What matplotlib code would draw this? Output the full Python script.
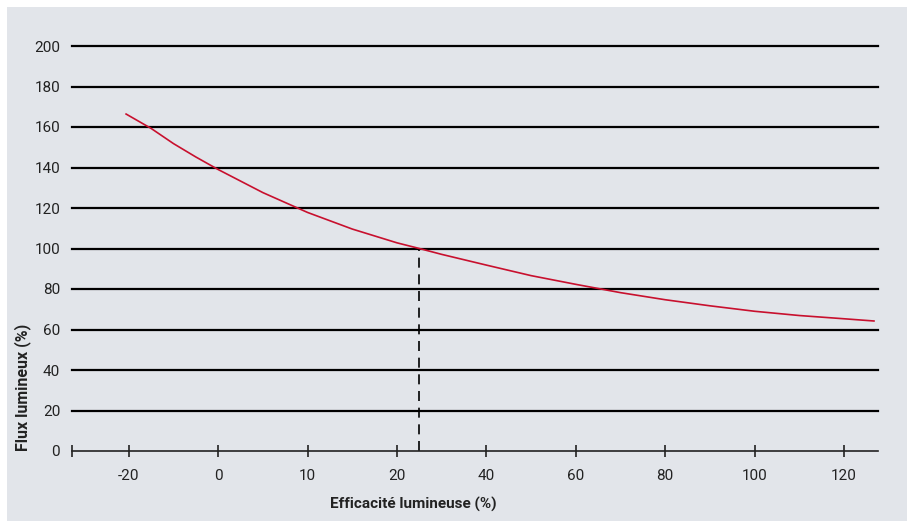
import numpy as np
import matplotlib
matplotlib.use("Agg")
import matplotlib.pyplot as plt
from matplotlib.patches import Rectangle

# ---- data ----
x_ticks = [-20, 0, 10, 20, 40, 60, 80, 100, 120]
x_tick_labels = ["-20", "0", "10", "20", "40", "60", "80", "100", "120"]
y_ticks = [0, 20, 40, 60, 80, 100, 120, 140, 160, 180, 200]

curve_x = [-20.6, -15, -10, -5, 0, 5, 10, 15, 20, 25, 30, 40, 50, 60,
           70, 80, 90, 100, 110, 120, 126.7]
curve_y = [166.4, 159.3, 151.8, 145.2, 139.0, 127.6, 117.8, 109.6, 102.8, 100.0,
           97.1, 91.8, 86.6, 82.3, 78.2, 74.7, 71.7, 69.0, 66.9, 65.3, 64.2]

ref_x = 25
ref_y = 100

x_label = "Efficacité lumineuse (%)"
y_label = "Flux lumineux (%)"

# ---- piecewise-linear x scale (equal spacing per labelled tick) ----
ext_vals = np.array([-60.0] + x_ticks + [200.0])
ext_pos = np.array([-2.0] + list(range(len(x_ticks))) + [12.0])

def fwd(v):
    return np.interp(v, ext_vals, ext_pos)

def inv(p):
    return np.interp(p, ext_pos, ext_vals)

plt.rcParams['font.family'] = ['Roboto', 'DejaVu Sans']

W, H = 912, 522
fig = plt.figure(figsize=(W / 100, H / 100), dpi=100)
fig.patch.set_facecolor('white')
bg = Rectangle((7 / W, 1 - 521 / H), 900 / W, 514 / H,
               transform=fig.transFigure, facecolor='#e2e5ea',
               edgecolor='none', zorder=-10)
fig.add_artist(bg)

ax = fig.add_axes([72 / W, 1 - 451 / H, (878 - 72) / W, (451 - 46) / H])
ax.set_zorder(5)
ax.set_facecolor('none')
ax.set_xscale('function', functions=(fwd, inv))
ax.set_xlim(inv(-0.635), inv(8.38))
ax.set_ylim(0, 200)

for s in ['top', 'right', 'left']:
    ax.spines[s].set_visible(False)
ax.spines['bottom'].set_color('#222222')
ax.spines['bottom'].set_linewidth(1.2)

# grid lines
for yv in y_ticks[1:]:
    ax.axhline(yv, color='black', lw=1.6, zorder=1, clip_on=False)

ax.set_yticks(y_ticks)
ax.set_yticklabels([str(v) for v in y_ticks])
ax.tick_params(axis='y', length=0, pad=8.5, labelsize=11, labelcolor='#222222')

xt = [ax.get_xlim()[0]] + x_ticks
ax.set_xticks(xt)
ax.set_xticklabels([""] + x_tick_labels)
ax.tick_params(axis='x', direction='inout', length=8.6, width=1.2, color='#222222',
               pad=9, labelsize=11, labelcolor='#222222')

ax.plot(curve_x, curve_y, color='#c8102e', lw=1.2, zorder=3, clip_on=False,
        solid_joinstyle='round')

ax.plot([ref_x, ref_x], [0, ref_y], color='black', lw=1.2, ls=(0, (6, 4)), zorder=2)

fig.text(413 / W, 1 - 504 / H, x_label, ha='center', va='center',
         fontsize=11, fontweight='bold', color='#222222')
fig.text(23 / W, 1 - 387 / H, y_label, ha='center', va='center', rotation=90,
         fontsize=11.5, fontweight='bold', color='#222222')

fig.savefig('out.png', dpi=100, facecolor=fig.get_facecolor())
